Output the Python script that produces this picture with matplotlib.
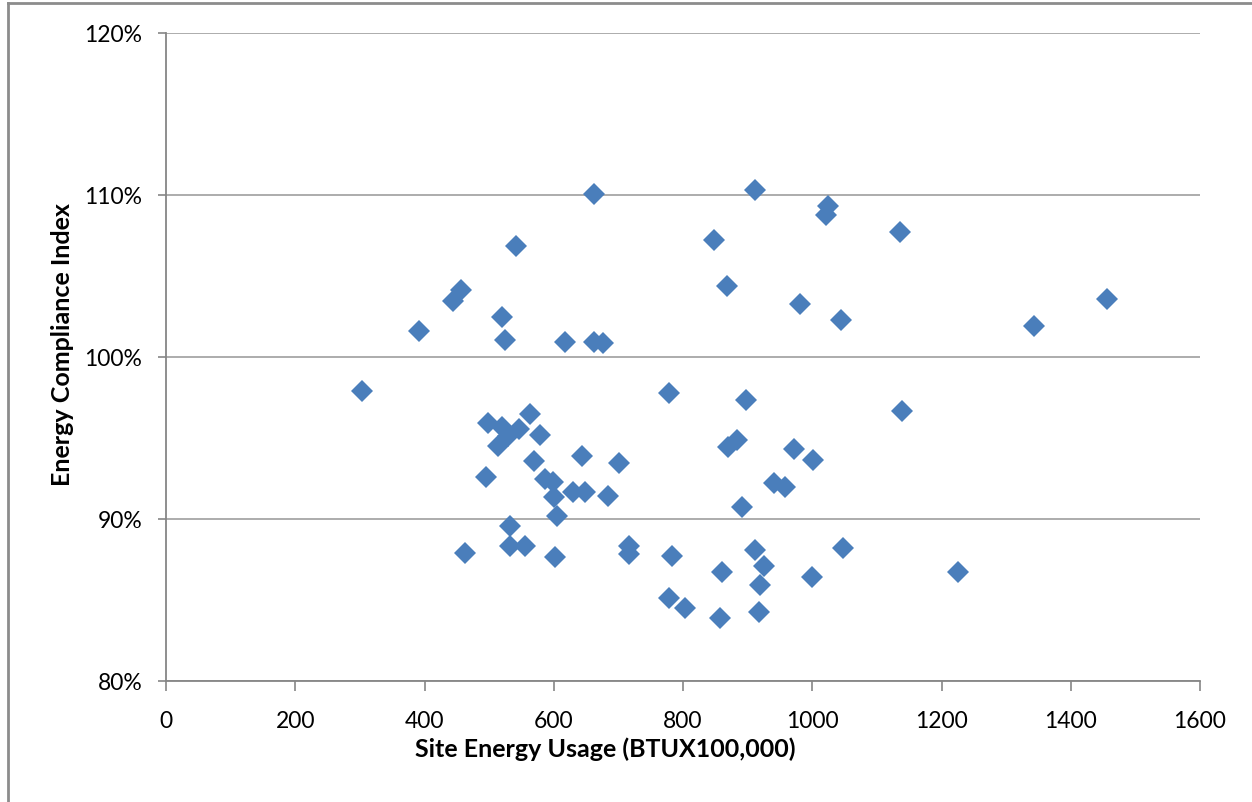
import matplotlib
matplotlib.use("Agg")
import matplotlib.pyplot as plt
from matplotlib.ticker import FuncFormatter
from matplotlib.lines import Line2D

# Site energy usage (BTU x 100,000)
site_energy = [
    662, 541.5, 456, 444, 520, 391, 524, 618, 662, 676, 304, 779,
    912, 1024, 1022, 848.5, 1135.5, 868, 981, 1044, 1343, 897.5, 1139.5,
    1456,
    498, 519.6, 562.6, 547, 528.6, 513.6, 578, 569, 644, 701.7, 495.7,
    585.8, 598.6, 601, 629.5, 647.6, 684, 605, 533, 462, 533, 555, 602.6,
    716, 716, 782.5, 860, 869, 884, 892,
    972, 1000.5, 941, 958, 912, 926, 1048, 999, 918.5, 1226, 779, 803,
    858, 917,
]
# Energy compliance index (%)
compliance_index = [
    110.06, 106.83, 104.13, 103.48, 102.49, 101.59, 101.05, 100.91, 100.91,
    100.85, 97.92, 97.77,
    110.31, 109.34, 108.77, 107.22, 107.70, 104.36, 103.27, 102.30, 101.93,
    97.33, 96.69,
    103.58,
    95.91, 95.68, 96.48, 95.56, 95.12, 94.52, 95.19, 93.60, 93.87, 93.46,
    92.57, 92.47, 92.27, 91.34, 91.69, 91.69, 91.40, 90.16, 89.55, 87.90,
    88.35, 88.35, 87.67, 88.35, 87.84, 87.70, 86.75, 94.46, 94.86, 90.76,
    94.32, 93.64, 92.20, 91.99, 88.09, 87.12, 88.21, 86.40, 85.93, 86.71,
    85.12, 84.51, 83.87, 84.28,
]

x_ticks = [0, 200, 400, 600, 800, 1000, 1200, 1400, 1600]
y_ticks = [80, 90, 100, 110, 120]

W, H = 1252, 803
fig = plt.figure(figsize=(W / 100, H / 100), dpi=100)
ax = fig.add_axes([166 / W, 1 - 682 / H, (1200 - 166) / W, (682 - 34) / H])

font = "Lato"
gray_axis = "#868686"
grid_col = "#a6a6a6"

ax.plot(site_energy, compliance_index, linestyle="none", marker="D",
        markersize=11.2, color="#4a7ebb", markeredgewidth=0, zorder=3)

ax.set_xlim(0, 1600)
ax.set_ylim(80, 120)
ax.set_xticks(x_ticks)
ax.set_yticks(y_ticks)
ax.yaxis.set_major_formatter(FuncFormatter(lambda v, p: f"{int(round(v))}%"))

ax.grid(axis="y", color=grid_col, linewidth=1.3, zorder=0)
ax.set_axisbelow(True)
for s in ["top", "right"]:
    ax.spines[s].set_visible(False)
for s in ["left", "bottom"]:
    ax.spines[s].set_color(gray_axis)
    ax.spines[s].set_linewidth(1.3)

ax.tick_params(axis="x", direction="out", length=7, width=1.2, color=gray_axis,
               pad=14, labelsize=16.5, labelcolor="#000000")
ax.tick_params(axis="y", direction="out", length=6, width=1.2, color=gray_axis,
               pad=11, labelsize=16.5, labelcolor="#000000")
for lab in ax.get_xticklabels() + ax.get_yticklabels():
    lab.set_fontfamily(font)

ax.set_xlabel("Site Energy Usage (BTUX100,000)", fontfamily=font,
              fontweight="bold", fontsize=18)
ax.set_ylabel("Energy Compliance Index", fontfamily=font,
              fontweight="bold", fontsize=18)
ax.xaxis.set_label_coords((605 - 166) / 1034, (682 - 737) / 648)
ax.yaxis.set_label_coords((74 - 166) / 1034, (682 - 345) / 648)

# outer chart frame (left and top edges visible)
fig.add_artist(Line2D([8 / W, 8 / W], [0, 1 - 4 / H], transform=fig.transFigure,
                      color="#8c8c8c", linewidth=2))
fig.add_artist(Line2D([8 / W, 1], [1 - 4 / H, 1 - 4 / H], transform=fig.transFigure,
                      color="#8c8c8c", linewidth=2))

fig.savefig("out.png", dpi=100)
